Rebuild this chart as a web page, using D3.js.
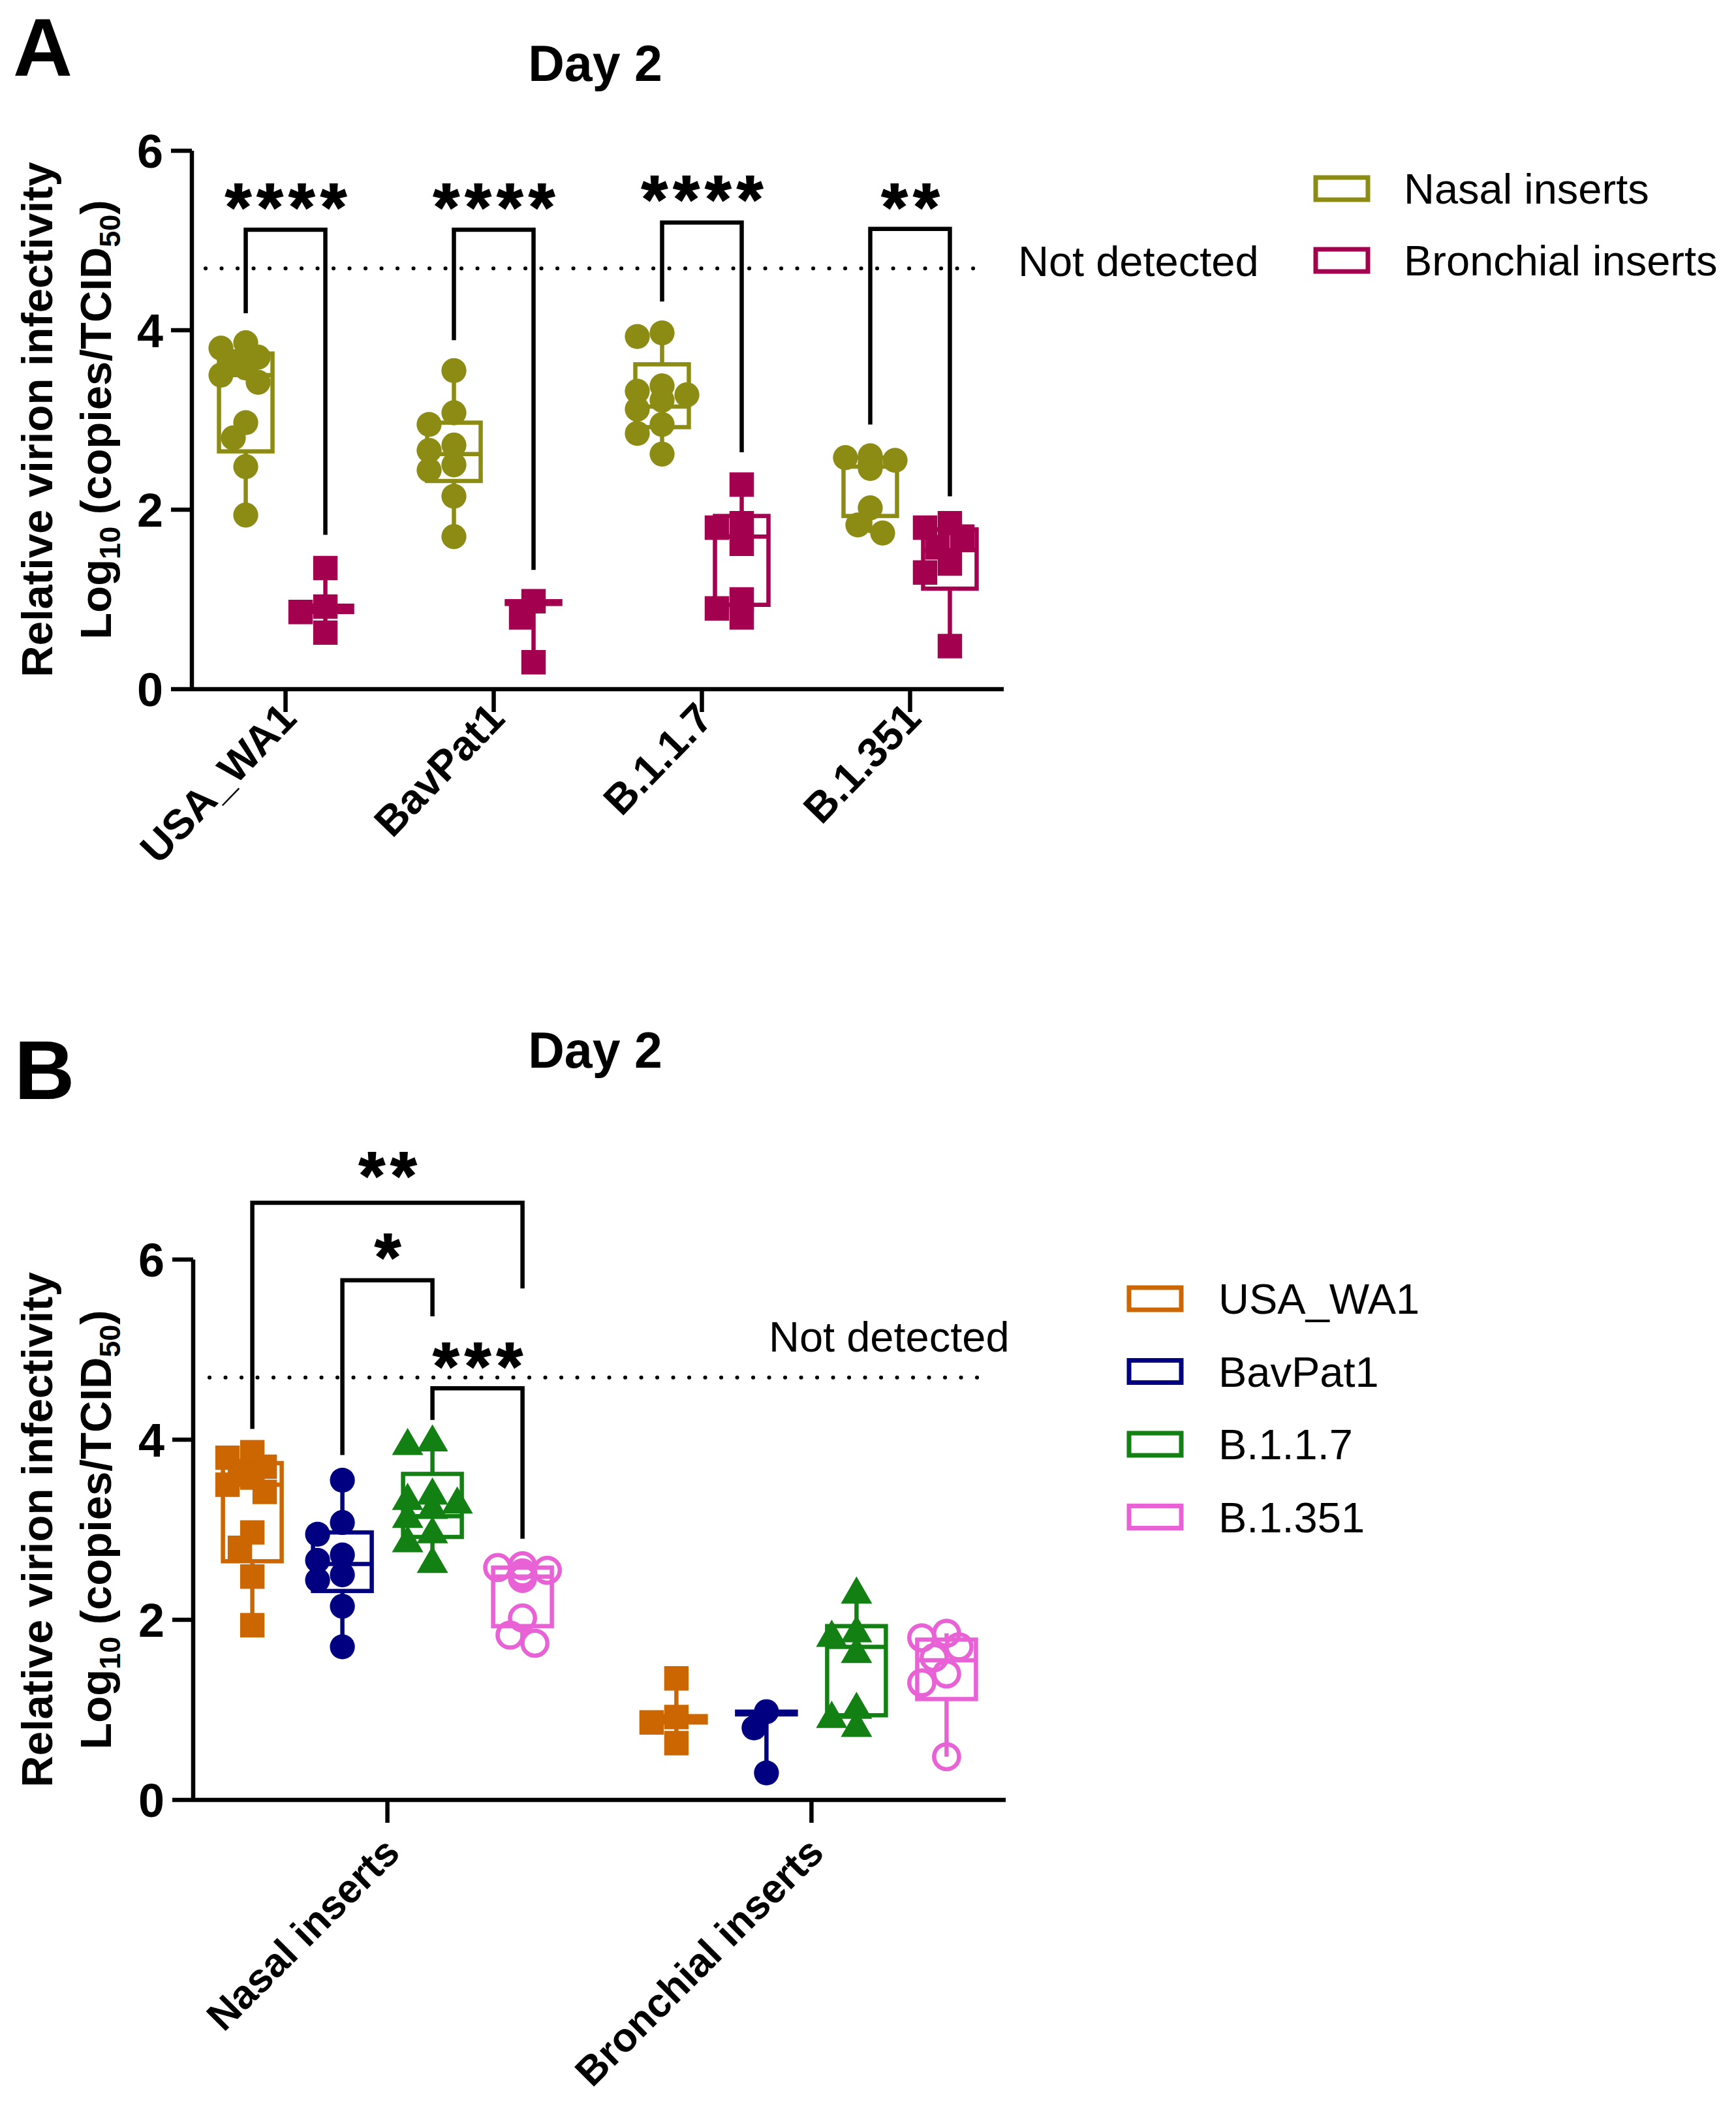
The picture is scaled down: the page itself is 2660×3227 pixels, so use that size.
<!DOCTYPE html>
<html>
<head>
<meta charset="utf-8">
<script src="https://cdn.jsdelivr.net/npm/d3@7"></script>
<style>
  body { margin: 0; background: #fff; }
  text { font-family: "Liberation Sans", Arial, sans-serif; }
</style>
</head>
<body>
<div id="chart"></div>
<script>
// ---- data (log10 copies/TCID50) ----
const variants = ["USA_WA1", "BavPat1", "B.1.1.7", "B.1.351"];
const inserts = ["Nasal inserts", "Bronchial inserts"];

const nasalPoints = [
  [3.86, 3.80, 3.70, 3.65, 3.62, 3.58, 3.50, 3.42, 2.97, 2.80, 2.48, 1.94],
  [3.55, 3.08, 2.95, 2.72, 2.66, 2.50, 2.44, 2.15, 1.70],
  [3.97, 3.93, 3.38, 3.32, 3.28, 3.22, 3.12, 2.95, 2.85, 2.62],
  [2.60, 2.58, 2.55, 2.52, 2.50, 2.46, 2.02, 1.83, 1.74]
];
const bronchialPoints = [
  [1.35, 0.92, 0.86, 0.63],
  [0.98, 0.80, 0.30],
  [2.28, 1.85, 1.80, 1.62, 1.00, 0.90, 0.80],
  [1.85, 1.80, 1.70, 1.58, 1.40, 1.30, 0.48]
];
// box: [q1, median, q3]
const nasalBox = [[2.65, 3.50, 3.74], [2.32, 2.62, 2.97], [2.92, 3.15, 3.62], [1.93, 2.48, 2.58]];
const bronchialBox = [[0.86, 0.90, 0.93], [0.95, 0.97, 0.98], [0.94, 1.70, 1.93], [1.12, 1.55, 1.78]];

const notDetected = 4.69;
const yTicks = [0, 2, 4, 6];

// panel A comparisons (nasal vs bronchial per variant)
const bracketsA = [
  { group: "USA_WA1", top: 5.12, left: 4.19, right: 1.72, label: "****", star: 5.51 },
  { group: "BavPat1", top: 5.12, left: 3.89, right: 1.33, label: "****", star: 5.51 },
  { group: "B.1.1.7", top: 5.20, left: 4.32, right: 2.64, label: "****", star: 5.60 },
  { group: "B.1.351", top: 5.13, left: 2.95, right: 2.15, label: "**", star: 5.51 }
];
// panel B comparisons (within nasal inserts)
const bracketsB = [
  { from: "USA_WA1", to: "B.1.351", top: 6.63, left: 4.12, right: 5.68, label: "**", star: 7.07 },
  { from: "BavPat1", to: "B.1.1.7", top: 5.77, left: 3.83, right: 5.37, label: "*", star: 6.17 },
  { from: "B.1.1.7", to: "B.1.351", top: 4.57, left: 4.22, right: 2.90, label: "***", star: 4.96 }
];

const insertColor = { "Nasal inserts": "#8c8c14", "Bronchial inserts": "#a3004f" };
const variantColor = { "USA_WA1": "#cc6600", "BavPat1": "#000080", "B.1.1.7": "#138013", "B.1.351": "#e862d6" };
const variantShape = { "USA_WA1": d3.symbolSquare, "BavPat1": d3.symbolCircle, "B.1.1.7": d3.symbolTriangle, "B.1.351": d3.symbolCircle };

const W = 2660, H = 3227;
const svg = d3.select("#chart").append("svg")
  .attr("width", W).attr("height", H)
  .attr("viewBox", [0, 0, W, H]);
svg.append("rect").attr("width", W).attr("height", H).attr("fill", "#fff");

const LW = 6.5;

// simple dodge so equal values spread sideways like GraphPad scatter
function dodge(vals, y, size, maxK) {
  const placed = [];
  return vals.map(v => {
    const py = y(v);
    let best = null;
    for (const k of [0, -1, 1, -2, 2, -3, 3].filter(k => Math.abs(k) <= maxK)) {
      const px = k * size * 0.5;
      if (placed.every(p => Math.hypot(p[0] - px, p[1] - py) > size * 0.7)) { best = [px, py]; break; }
    }
    if (!best) best = [0, py];
    placed.push(best);
    return { v, dx: best[0], y: best[1] };
  });
}

function drawYAxis(g, y, xAxis) {
  g.append("line").attr("x1", xAxis).attr("x2", xAxis)
    .attr("y1", y(6)).attr("y2", y(0))
    .attr("stroke", "#000").attr("stroke-width", LW);
  g.selectAll(".yt").data(yTicks).join("line")
    .attr("x1", xAxis - 32).attr("x2", xAxis)
    .attr("y1", d => y(d)).attr("y2", d => y(d))
    .attr("stroke", "#000").attr("stroke-width", LW);
  g.selectAll(".yl").data(yTicks).join("text")
    .attr("x", xAxis - 44).attr("y", d => y(d))
    .attr("dy", "0.36em").attr("text-anchor", "end")
    .attr("font-size", 72).attr("font-weight", "bold")
    .text(d => d);
}

function yTitle(g, cy) {
  const t = g.append("g").attr("transform", `translate(0,${cy}) rotate(-90)`);
  t.append("text").attr("x", 0).attr("y", 80).attr("text-anchor", "middle")
    .attr("font-size", 67).attr("font-weight", "bold")
    .text("Relative virion infectivity");
  const l2 = t.append("text").attr("x", 0).attr("y", 170).attr("text-anchor", "middle")
    .attr("font-size", 67).attr("font-weight", "bold");
  l2.append("tspan").text("Log");
  l2.append("tspan").attr("font-size", 45).attr("dy", 14).text("10");
  l2.append("tspan").attr("dy", -14).text(" (copies/TCID");
  l2.append("tspan").attr("font-size", 45).attr("dy", 14).text("50");
  l2.append("tspan").attr("dy", -14).text(")");
}

function bracket(g, x1, x2, yTop, yL, yR) {
  g.append("path")
    .attr("d", `M${x1},${yL}V${yTop}H${x2}V${yR}`)
    .attr("fill", "none").attr("stroke", "#000").attr("stroke-width", LW);
}

function stars(g, x, yc, label) {
  g.append("text").attr("x", x + 5).attr("y", yc + 54)
    .attr("text-anchor", "middle").attr("font-size", 102).attr("font-weight", "bold")
    .attr("letter-spacing", 9)
    .attr("stroke", "#000").attr("stroke-width", 2)
    .text(label);
}

function boxPlot(g, cx, y, box, vals, color, bw) {
  const lo = d3.min(vals), hi = d3.max(vals);
  g.append("line").attr("x1", cx).attr("x2", cx).attr("y1", y(hi)).attr("y2", y(box[2]))
    .attr("stroke", color).attr("stroke-width", LW);
  g.append("line").attr("x1", cx).attr("x2", cx).attr("y1", y(box[0])).attr("y2", y(lo))
    .attr("stroke", color).attr("stroke-width", LW);
  g.append("rect").attr("x", cx - bw / 2).attr("width", bw)
    .attr("y", y(box[2])).attr("height", Math.max(y(box[0]) - y(box[2]), 1))
    .attr("fill", "none").attr("stroke", color).attr("stroke-width", LW);
  g.append("line").attr("x1", cx - bw / 2).attr("x2", cx + bw / 2)
    .attr("y1", y(box[1])).attr("y2", y(box[1]))
    .attr("stroke", color).attr("stroke-width", LW);
}

function points(g, cx, y, vals, color, shape, area, size, open) {
  const pts = dodge(vals, y, size, 2);
  g.selectAll(null).data(pts).join("path")
    .attr("transform", d => `translate(${cx + d.dx},${d.y})`)
    .attr("d", d3.symbol(shape, area))
    .attr("fill", open ? "none" : color)
    .attr("stroke", color).attr("stroke-width", open ? 6.5 : 0);
}

// ================= Panel A =================
{
  const g = svg.append("g");
  const y = d3.scaleLinear().domain([0, 6]).range([1056, 231]);
  const x = d3.scalePoint().domain(variants).range([294, 1538]).padding(0.45);
  const xi = d3.scalePoint().domain(inserts).range([-61, 61]);

  g.append("text").attr("x", 20).attr("y", 116).attr("font-size", 126).attr("font-weight", "bold").text("A");
  g.append("text").attr("x", 912).attr("y", 124).attr("text-anchor", "middle")
    .attr("font-size", 77).attr("font-weight", "bold").text("Day 2");

  // not detected line
  g.append("line").attr("x1", 315).attr("x2", 1515).attr("y1", y(notDetected)).attr("y2", y(notDetected))
    .attr("stroke", "#000").attr("stroke-width", 6).attr("stroke-linecap", "round")
    .attr("stroke-dasharray", "0.1 24.4");
  g.append("text").attr("x", 1560).attr("y", y(notDetected) + 12).attr("font-size", 65).text("Not detected");

  // x axis
  g.append("line").attr("x1", 294).attr("x2", 1538).attr("y1", y(0)).attr("y2", y(0))
    .attr("stroke", "#000").attr("stroke-width", LW);
  g.selectAll(".xt").data(variants).join("line")
    .attr("x1", d => x(d)).attr("x2", d => x(d)).attr("y1", y(0)).attr("y2", y(0) + 35)
    .attr("stroke", "#000").attr("stroke-width", LW);
  g.selectAll(".xl").data(variants).join("text")
    .attr("transform", d => `translate(${x(d) + 20},${y(0) + 48}) rotate(-46)`)
    .attr("text-anchor", "end").attr("font-size", 64).attr("font-weight", "bold")
    .text(d => d);

  drawYAxis(g, y, 294);
  yTitle(g, 643);

  variants.forEach((v, i) => {
    boxPlot(g, x(v) + xi("Nasal inserts"), y, nasalBox[i], nasalPoints[i], insertColor["Nasal inserts"], 82);
    boxPlot(g, x(v) + xi("Bronchial inserts"), y, bronchialBox[i], bronchialPoints[i], insertColor["Bronchial inserts"], 82);
    points(g, x(v) + xi("Nasal inserts"), y, nasalPoints[i], insertColor["Nasal inserts"], d3.symbolCircle, 1150, 38, false);
    points(g, x(v) + xi("Bronchial inserts"), y, bronchialPoints[i], insertColor["Bronchial inserts"], d3.symbolSquare, 1400, 38, false);
  });

  bracketsA.forEach(b => {
    const x1 = x(b.group) + xi("Nasal inserts"), x2 = x(b.group) + xi("Bronchial inserts");
    bracket(g, x1, x2, y(b.top), y(b.left), y(b.right));
    stars(g, (x1 + x2) / 2, y(b.star), b.label);
  });

  // legend
  const leg = g.append("g").selectAll("g").data(inserts).join("g")
    .attr("transform", (d, i) => `translate(2013,${289 + i * 110})`);
  leg.append("rect").attr("x", 3).attr("y", -17).attr("width", 80).attr("height", 34)
    .attr("fill", "none").attr("stroke", d => insertColor[d]).attr("stroke-width", 7);
  leg.append("text").attr("x", 138).attr("y", 23).attr("font-size", 65).text(d => d);
}

// ================= Panel B =================
{
  const g = svg.append("g");
  const y = d3.scaleLinear().domain([0, 6]).range([2758, 1930]);
  const x = d3.scalePoint().domain(inserts).range([296, 1541]).padding(0.458);
  const xv = d3.scalePoint().domain(variants).range([-207, 207]);

  g.append("text").attr("x", 22).attr("y", 1684).attr("font-size", 128).attr("font-weight", "bold").text("B");
  g.append("text").attr("x", 912).attr("y", 1636).attr("text-anchor", "middle")
    .attr("font-size", 77).attr("font-weight", "bold").text("Day 2");

  g.append("line").attr("x1", 321).attr("x2", 1515).attr("y1", y(notDetected)).attr("y2", y(notDetected))
    .attr("stroke", "#000").attr("stroke-width", 6).attr("stroke-linecap", "round")
    .attr("stroke-dasharray", "0.1 24.4");
  g.append("text").attr("x", 1178).attr("y", y(notDetected) - 40).attr("font-size", 65).text("Not detected");

  g.append("line").attr("x1", 296).attr("x2", 1541).attr("y1", y(0)).attr("y2", y(0))
    .attr("stroke", "#000").attr("stroke-width", LW);
  g.selectAll(".xt").data(inserts).join("line")
    .attr("x1", d => x(d)).attr("x2", d => x(d)).attr("y1", y(0)).attr("y2", y(0) + 35)
    .attr("stroke", "#000").attr("stroke-width", LW);
  g.selectAll(".xl").data(inserts).join("text")
    .attr("transform", d => `translate(${x(d) + 22},${y(0) + 84}) rotate(-45)`)
    .attr("text-anchor", "end").attr("font-size", 62).attr("font-weight", "bold")
    .text(d => d);

  drawYAxis(g, y, 296);
  yTitle(g, 2344);

  const groups = [["Nasal inserts", nasalPoints, nasalBox], ["Bronchial inserts", bronchialPoints, bronchialBox]];
  groups.forEach(([ins, pts, box]) => {
    variants.forEach((v, i) => {
      const cx = x(ins) + xv(v);
      boxPlot(g, cx, y, box[i], pts[i], variantColor[v], 90);
      const shape = variantShape[v];
      const area = shape === d3.symbolTriangle ? 1000 : shape === d3.symbolSquare ? 1400 : 1150;
      points(g, cx, y, pts[i], variantColor[v], shape, area, 38, v === "B.1.351");
    });
  });

  bracketsB.forEach(b => {
    const x1 = x("Nasal inserts") + xv(b.from), x2 = x("Nasal inserts") + xv(b.to);
    bracket(g, x1, x2, y(b.top), y(b.left), y(b.right));
    stars(g, (x1 + x2) / 2, y(b.star), b.label);
  });

  const leg = g.append("g").selectAll("g").data(variants).join("g")
    .attr("transform", (d, i) => `translate(1727,${1990 + i * 111.5})`);
  leg.append("rect").attr("x", 3).attr("y", -17).attr("width", 80).attr("height", 34)
    .attr("fill", "none").attr("stroke", d => variantColor[d]).attr("stroke-width", 7);
  leg.append("text").attr("x", 140).attr("y", 23).attr("font-size", 65).text(d => d);
}
</script>
</body>
</html>
